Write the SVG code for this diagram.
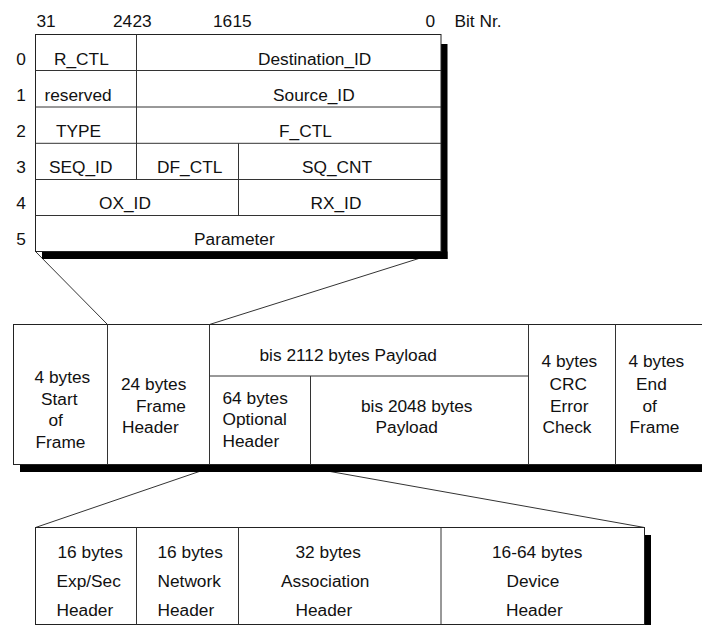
<svg xmlns="http://www.w3.org/2000/svg" width="702" height="625" viewBox="0 0 702 625">
<style>
text{font-family:"Liberation Sans",Arial,sans-serif;font-size:17.3px;fill:#111}
.box{fill:#fff;stroke:#222;stroke-width:1}
.ln{stroke:#333;stroke-width:1;fill:none}
.sh{fill:#000}
</style>
<rect width="702" height="625" fill="#fff"/>
<g id="connectors">
<line class="ln" x1="35.5" y1="251.5" x2="107.5" y2="324.5"/>
<line class="ln" x1="441" y1="251.5" x2="209.5" y2="324.5"/>
<line class="ln" x1="209.5" y1="468" x2="35.5" y2="527.5"/>
<line class="ln" x1="310.5" y1="468" x2="644.5" y2="527.5"/>
</g>
<g id="bit-labels">
<text x="36.5" y="26.5">31</text>
<text x="113" y="26.5">24</text>
<text x="132.5" y="26.5">23</text>
<text x="213" y="26.5">16</text>
<text x="232.5" y="26.5">15</text>
<text x="425.5" y="26.5">0</text>
<text x="454.5" y="26.5">Bit Nr.</text>
<g text-anchor="middle">
<text x="21" y="64.5">0</text>
<text x="21" y="100.5">1</text>
<text x="21" y="136.5">2</text>
<text x="21" y="172.7">3</text>
<text x="21" y="209">4</text>
<text x="21" y="245">5</text>
</g>
</g>
<g id="frame-header-table">
<rect class="sh" x="441" y="44" width="6.5" height="215"/>
<rect class="sh" x="42" y="251.5" width="405.5" height="7.5"/>
<rect class="box" x="35.5" y="34.5" width="405.5" height="217"/>
<line class="ln" x1="35.5" y1="70.5" x2="441" y2="70.5"/>
<line class="ln" x1="35.5" y1="107" x2="441" y2="107"/>
<line class="ln" x1="35.5" y1="143.3" x2="441" y2="143.3"/>
<line class="ln" x1="35.5" y1="179.5" x2="441" y2="179.5"/>
<line class="ln" x1="35.5" y1="215.5" x2="441" y2="215.5"/>
<line class="ln" x1="136.5" y1="34.5" x2="136.5" y2="179.5"/>
<line class="ln" x1="238.5" y1="143.3" x2="238.5" y2="215.5"/>
<text x="54" y="64.5">R_CTL</text>
<text x="258" y="64.5">Destination_ID</text>
<text x="44.5" y="100.5">reserved</text>
<text x="273" y="100.5">Source_ID</text>
<text x="56" y="136.5">TYPE</text>
<text x="279" y="136.5">F_CTL</text>
<text x="49" y="172.7">SEQ_ID</text>
<text x="157" y="172.7">DF_CTL</text>
<text x="302" y="172.7">SQ_CNT</text>
<text x="99" y="209">OX_ID</text>
<text x="310.5" y="209">RX_ID</text>
<text x="194" y="245">Parameter</text>
</g>
<g id="frame">
<rect class="sh" x="20" y="464" width="690" height="8"/>
<rect class="box" x="13.5" y="324.5" width="700" height="140"/>
<line class="ln" x1="107.5" y1="324.5" x2="107.5" y2="464.5"/>
<line class="ln" x1="209.5" y1="324.5" x2="209.5" y2="464.5"/>
<line class="ln" x1="209.5" y1="376" x2="528.5" y2="376"/>
<line class="ln" x1="310.5" y1="376" x2="310.5" y2="464.5"/>
<line class="ln" x1="528.5" y1="324.5" x2="528.5" y2="464.5"/>
<line class="ln" x1="615.5" y1="324.5" x2="615.5" y2="464.5"/>
<text x="34.5" y="383">4 bytes</text>
<text x="41" y="404.5">Start</text>
<text x="48.5" y="426">of</text>
<text x="35.5" y="447.5">Frame</text>
<text x="121" y="390">24 bytes</text>
<text x="136" y="411.5">Frame</text>
<text x="122" y="433">Header</text>
<text x="259.5" y="361">bis 2112 bytes Payload</text>
<text x="222.5" y="403.5">64 bytes</text>
<text x="222.5" y="425">Optional</text>
<text x="222.5" y="447">Header</text>
<text x="361" y="411.5">bis 2048 bytes</text>
<text x="375.5" y="432.5">Payload</text>
<text x="541.5" y="367">4 bytes</text>
<text x="549.5" y="389.5">CRC</text>
<text x="550" y="411.5">Error</text>
<text x="542.5" y="432.5">Check</text>
<text x="628.5" y="367">4 bytes</text>
<text x="636" y="389.5">End</text>
<text x="642.5" y="411.5">of</text>
<text x="629.5" y="432.5">Frame</text>
</g>
<g id="optional-header">
<rect class="sh" x="644" y="535" width="7" height="95"/>
<rect class="box" x="35.5" y="527.5" width="609" height="97"/>
<line class="ln" x1="136.5" y1="527.5" x2="136.5" y2="624.5"/>
<line class="ln" x1="238.5" y1="527.5" x2="238.5" y2="624.5"/>
<line class="ln" x1="441" y1="527.5" x2="441" y2="624.5"/>
<text x="57.5" y="557.5">16 bytes</text>
<text x="56.5" y="586.5">Exp/Sec</text>
<text x="56.5" y="615.5">Header</text>
<text x="157.5" y="557.5">16 bytes</text>
<text x="157.5" y="586.5">Network</text>
<text x="157.5" y="615.5">Header</text>
<text x="295.5" y="557.5">32 bytes</text>
<text x="281" y="586.5">Association</text>
<text x="295.5" y="615.5">Header</text>
<text x="492" y="557.5">16-64 bytes</text>
<text x="506.5" y="586.5">Device</text>
<text x="506" y="615.5">Header</text>
</g>
</svg>
